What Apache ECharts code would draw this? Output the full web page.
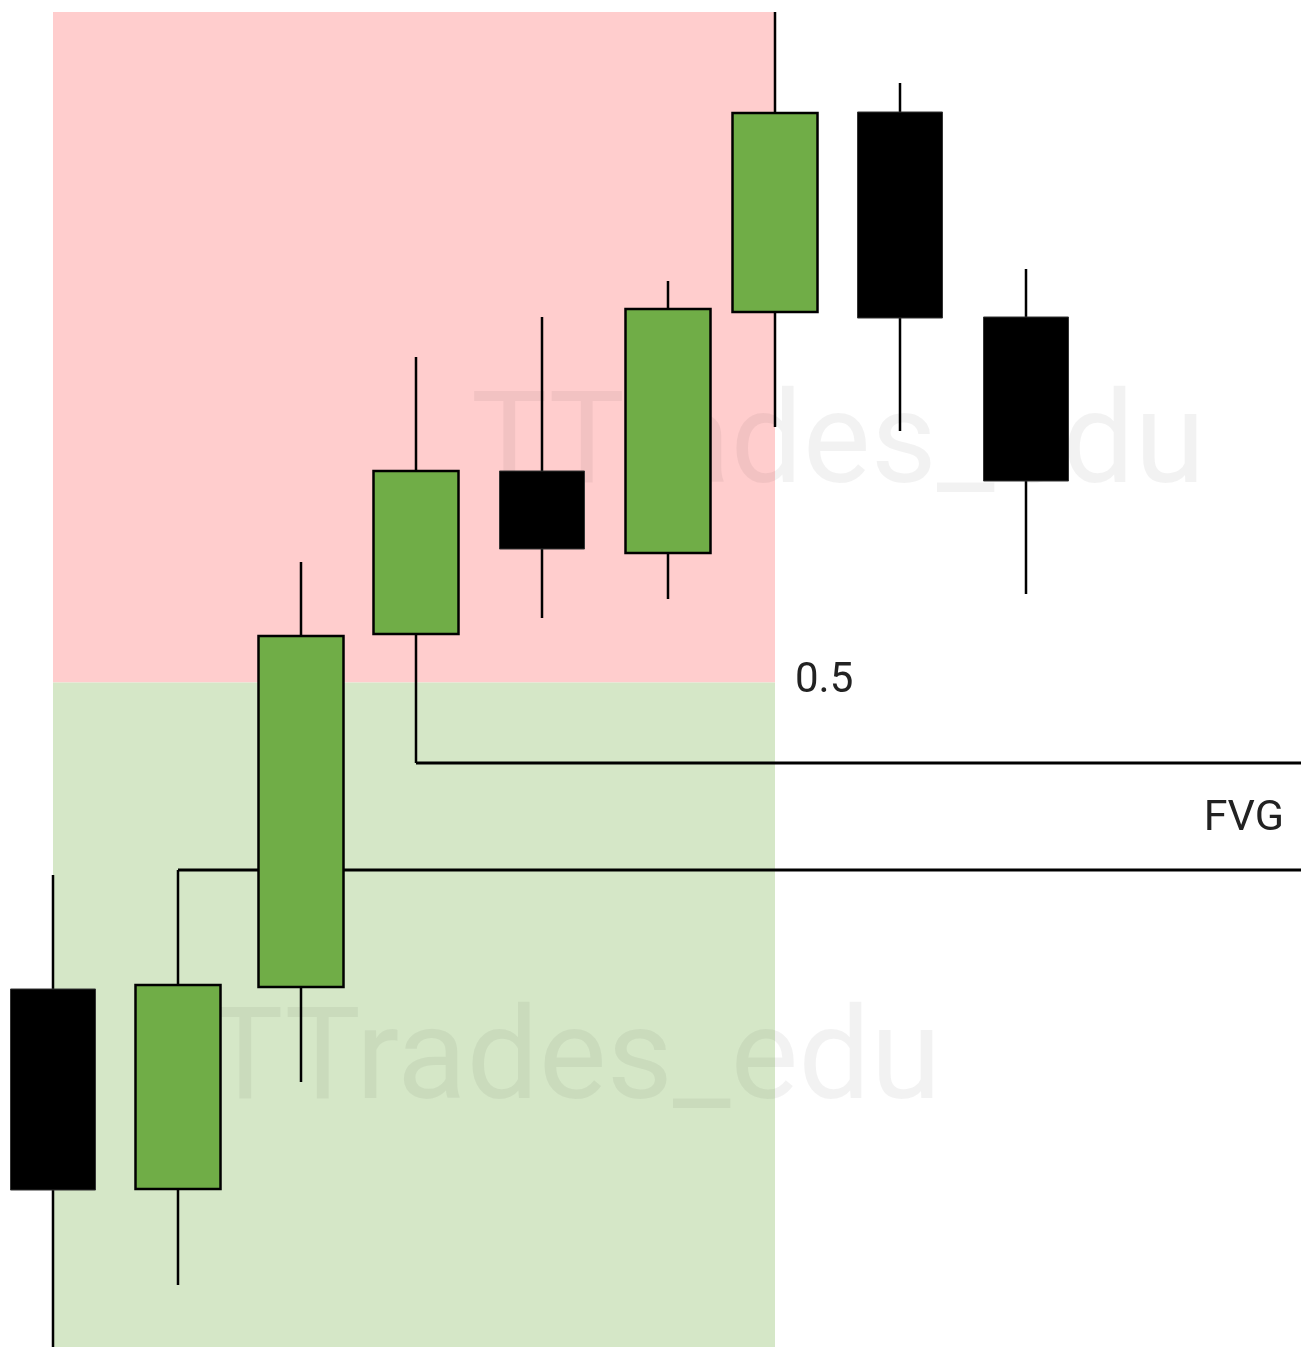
<!DOCTYPE html>
<html>
<head>
<meta charset="utf-8">
<title>FVG premium / discount</title>
<script src="https://cdn.jsdelivr.net/npm/echarts@6/dist/echarts.min.js"></script>
<style>
  html, body { margin: 0; padding: 0; background: #fff; }
  #chart { width: 1301px; height: 1347px; }
</style>
</head>
<body>
<div id="chart"></div>
<script>
// Candle times on the x scale and OHLC prices on the y scale
const times  = [53, 178, 301, 416, 542, 668, 775, 900, 1026]
const opens  = [358, 158, 360, 713, 876, 794, 1035, 1235, 1030]
const closes = [157, 362, 711, 876, 798, 1038, 1234, 1029, 866]
const lows   = [-6, 62, 265, 584, 729, 748, 920, 916, 753]
const highs  = [472, 477, 785, 990, 1030, 1066, 1335, 1264, 1078]

// Range swing: candle 1 low -> candle 7 high, FVG: candle 2 high -> candle 4 low
const swingLow = { t: times[0], price: lows[0] }
const swingHigh = { t: times[6], price: highs[6] }
const midLevel = (swingLow.price + swingHigh.price) / 2
const fvgBottom = { t: times[1], price: highs[1] }
const fvgTop = { t: times[3], price: lows[3] }
const xEnd = 1301

const labels = ['0.5', 'FVG']
const watermark = 'TTrades_edu'

const GREEN = '#70ad47'
const BODY_W = 85

const candleData = times.map((t, i) => [t, opens[i], closes[i], lows[i], highs[i]])

const chart = echarts.init(document.getElementById('chart'), null, { renderer: 'canvas' })

const renderCandle = (params, api) => {
  const t = api.value(0)
  const o = api.coord([t, api.value(1)])
  const c = api.coord([t, api.value(2)])
  const lo = api.coord([t, api.value(3)])
  const hi = api.coord([t, api.value(4)])
  const bull = api.value(2) > api.value(1)
  const top = Math.min(o[1], c[1])
  const h = Math.abs(o[1] - c[1])
  return {
    type: 'group',
    children: [
      {
        type: 'line',
        shape: { x1: hi[0], y1: hi[1], x2: lo[0], y2: lo[1] },
        style: { stroke: '#000', lineWidth: 2.5 }
      },
      {
        type: 'rect',
        shape: { x: o[0] - BODY_W / 2, y: top, width: BODY_W, height: h },
        style: bull
          ? { fill: GREEN, stroke: '#000', lineWidth: 2.5 }
          : { fill: '#000', stroke: '#333', lineWidth: 1 }
      }
    ]
  }
}

const renderZones = (params, api) => {
  const a = api.coord([swingLow.t, swingHigh.price])
  const m = api.coord([swingHigh.t, midLevel])
  const b = api.coord([swingHigh.t, swingLow.price])
  return {
    type: 'group',
    children: [
      { type: 'rect', shape: { x: a[0], y: a[1], width: m[0] - a[0], height: m[1] - a[1] }, style: { fill: '#ffcdcd' } },
      { type: 'rect', shape: { x: a[0], y: m[1], width: b[0] - a[0], height: b[1] - m[1] + 20 }, style: { fill: '#d5e7c7' } }
    ]
  }
}

const renderLabels = (params, api) => {
  const p = api.coord([swingHigh.t, midLevel])
  const f = api.coord([xEnd, (fvgBottom.price + fvgTop.price) / 2])
  return {
    type: 'group',
    children: [
      { type: 'text', x: p[0] + 20, y: p[1] - 1, style: { text: labels[0], font: '42px Roboto', fill: '#222', verticalAlign: 'middle', align: 'left' } },
      { type: 'text', x: f[0] - 17, y: f[1] + 3, style: { text: labels[1], font: '43px Roboto', fill: '#222', verticalAlign: 'middle', align: 'right' } }
    ]
  }
}

const option = {
  animation: false,
  backgroundColor: '#fff',
  grid: { left: 0, right: 0, top: 0, bottom: 0 },
  xAxis: { type: 'value', min: 0, max: 1301, show: false },
  yAxis: { type: 'value', min: 0, max: 1347, show: false },
  graphic: [
    { type: 'text', z: 1, left: 471, top: 386, style: { text: watermark, font: '128px Roboto', fill: 'rgba(0,0,0,0.05)' } },
    { type: 'text', z: 1, left: 207, top: 1002, style: { text: watermark, font: '128px Roboto', fill: 'rgba(0,0,0,0.05)' } }
  ],
  series: [
    { type: 'custom', z: 0, silent: true, data: [0], renderItem: renderZones },
    {
      type: 'line', z: 2, symbol: 'none', silent: true,
      lineStyle: { color: '#000', width: 3 },
      data: [[fvgTop.t, fvgTop.price], [xEnd, fvgTop.price]]
    },
    {
      type: 'line', z: 2, symbol: 'none', silent: true,
      lineStyle: { color: '#000', width: 3 },
      data: [[fvgBottom.t, fvgBottom.price], [xEnd, fvgBottom.price]]
    },
    { type: 'custom', z: 3, data: candleData, renderItem: renderCandle },
    { type: 'custom', z: 4, silent: true, data: [0], renderItem: renderLabels }
  ]
}

chart.setOption(option)
</script>
</body>
</html>
